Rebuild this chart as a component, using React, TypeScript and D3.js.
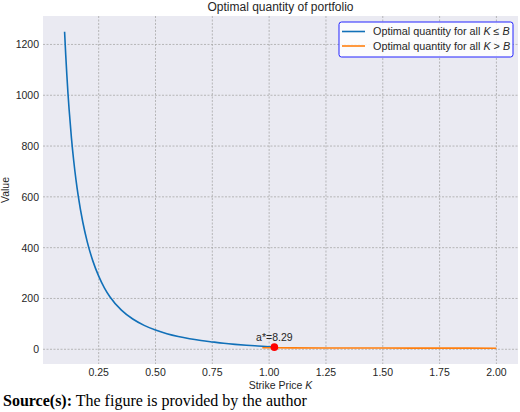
import { useEffect, useRef } from "react";
import * as d3 from "d3";

// blue branch: optimal quantity for K <= B
const strikeLow = [0.1, 0.105, 0.11, 0.115, 0.12, 0.13, 0.14, 0.15, 0.16, 0.18, 0.2, 0.225, 0.25, 0.275, 0.3, 0.35, 0.4, 0.45, 0.5, 0.55, 0.6, 0.65, 0.7, 0.75, 0.8, 0.85, 0.9, 0.95, 1.0, 1.023];
const valueLow = [1250, 1159, 1079, 1006, 943, 833, 743, 668, 604, 501, 422, 346, 288, 242, 206, 154, 119, 94, 75.5, 61.4, 50.4, 41.7, 34.7, 28.9, 23.5, 19.3, 15.8, 12.8, 9.9, 8.29];

// orange branch: optimal quantity for K > B
const strikeHigh = [0.97, 1.023, 1.1, 1.25, 1.5, 1.75, 2.0];
const valueHigh = [6, 5.8, 5.5, 5.2, 4.8, 4.5, 4.2];

const xTicks = [0.25, 0.5, 0.75, 1.0, 1.25, 1.5, 1.75, 2.0];
const yTicks = [0, 200, 400, 600, 800, 1000, 1200];

const optK = 1.023;
const optA = 8.29;

const legendLabels = [
  { color: "#1170b8", pre: "Optimal quantity for all ", k: "K", op: " ≤ ", b: "B" },
  { color: "#ff7f0e", pre: "Optimal quantity for all ", k: "K", op: " > ", b: "B" },
];

export default function App() {
  const svgRef = useRef<SVGSVGElement | null>(null);

  useEffect(() => {
    const width = 520;
    const height = 412;
    const plot = { left: 43, right: 518, top: 16, bottom: 364 };

    const x = d3.scaleLinear().domain([0.005, 2.095]).range([plot.left, plot.right]);
    const y = d3.scaleLinear().domain([-58, 1312]).range([plot.bottom, plot.top]);

    const svg = d3
      .select(svgRef.current)
      .attr("width", width)
      .attr("height", height)
      .style("font-family", "'Liberation Sans', Arial, sans-serif")
      .html("");

    svg.append("rect").attr("width", width).attr("height", height).attr("fill", "white");

    svg
      .append("rect")
      .attr("x", plot.left)
      .attr("y", plot.top)
      .attr("width", plot.right - plot.left)
      .attr("height", plot.bottom - plot.top)
      .attr("fill", "#eaeaf2");

    const grid = svg.append("g").attr("stroke", "#a8a8a8").attr("stroke-width", 0.8).attr("stroke-dasharray", "2,1.5");
    grid
      .selectAll("line.gx")
      .data(xTicks)
      .join("line")
      .attr("x1", (d) => x(d))
      .attr("x2", (d) => x(d))
      .attr("y1", plot.top)
      .attr("y2", plot.bottom);
    grid
      .selectAll("line.gy")
      .data(yTicks)
      .join("line")
      .attr("y1", (d) => y(d))
      .attr("y2", (d) => y(d))
      .attr("x1", plot.left)
      .attr("x2", plot.right);

    // tick labels
    svg
      .append("g")
      .selectAll("text")
      .data(xTicks)
      .join("text")
      .attr("x", (d) => x(d))
      .attr("y", 376)
      .attr("text-anchor", "middle")
      .attr("font-size", 10.5)
      .attr("fill", "#262626")
      .text((d) => d3.format(".2f")(d));
    svg
      .append("g")
      .selectAll("text")
      .data(yTicks)
      .join("text")
      .attr("x", 39)
      .attr("y", (d) => y(d) + 4)
      .attr("text-anchor", "end")
      .attr("font-size", 10.5)
      .attr("fill", "#262626")
      .text((d) => d);

    // axis labels
    const xl = svg
      .append("text")
      .attr("x", (plot.left + plot.right) / 2)
      .attr("y", 389)
      .attr("text-anchor", "middle")
      .attr("font-size", 10.5)
      .attr("fill", "#262626");
    xl.append("tspan").text("Strike Price ");
    xl.append("tspan").attr("font-style", "italic").text("K");

    svg
      .append("text")
      .attr("transform", `translate(9,${(plot.top + plot.bottom) / 2}) rotate(-90)`)
      .attr("text-anchor", "middle")
      .attr("font-size", 10.5)
      .attr("fill", "#262626")
      .text("Value");

    svg
      .append("text")
      .attr("x", (plot.left + plot.right) / 2)
      .attr("y", 11)
      .attr("text-anchor", "middle")
      .attr("font-size", 12)
      .attr("fill", "#262626")
      .text("Optimal quantity of portfolio");

    // lines
    const lineLow = d3
      .line<number>()
      .x((_, i) => x(strikeLow[i]))
      .y((d) => y(d))
      .curve(d3.curveMonotoneX);
    const lineHigh = d3
      .line<number>()
      .x((_, i) => x(strikeHigh[i]))
      .y((d) => y(d))
      .curve(d3.curveMonotoneX);

    svg
      .append("path")
      .attr("d", lineLow(valueLow))
      .attr("fill", "none")
      .attr("stroke", legendLabels[0].color)
      .attr("stroke-width", 1.6);
    svg
      .append("path")
      .attr("d", lineHigh(valueHigh))
      .attr("fill", "none")
      .attr("stroke", legendLabels[1].color)
      .attr("stroke-width", 1.6);

    svg.append("circle").attr("cx", x(optK)).attr("cy", y(optA)).attr("r", 3.8).attr("fill", "red");
    svg
      .append("text")
      .attr("x", x(optK))
      .attr("y", y(optA) - 6)
      .attr("text-anchor", "middle")
      .attr("font-size", 10.5)
      .attr("fill", "#262626")
      .text(`a*=${optA}`);

    // legend
    const lg = svg.append("g");
    lg.append("rect")
      .attr("x", 339)
      .attr("y", 22)
      .attr("width", 174)
      .attr("height", 35)
      .attr("rx", 2.5)
      .attr("fill", "white")
      .attr("fill-opacity", 0.85)
      .attr("stroke", "#2222ff")
      .attr("stroke-width", 1);
    legendLabels.forEach((l, i) => {
      const ly = 31.5 + i * 14.5;
      lg.append("line")
        .attr("x1", 342)
        .attr("x2", 365)
        .attr("y1", ly)
        .attr("y2", ly)
        .attr("stroke", l.color)
        .attr("stroke-width", 1.6);
      const t = lg
        .append("text")
        .attr("x", 373)
        .attr("y", ly + 3.8)
        .attr("font-size", 10.8)
        .attr("fill", "#262626");
      t.append("tspan").text(l.pre);
      t.append("tspan").attr("font-style", "italic").text(l.k);
      t.append("tspan").text(l.op);
      t.append("tspan").attr("font-style", "italic").text(l.b);
    });

    // source note
    const src = svg
      .append("text")
      .attr("x", 3)
      .attr("y", 406)
      .attr("font-family", "'Liberation Serif', 'Times New Roman', serif")
      .attr("font-size", 16)
      .attr("fill", "black");
    src.append("tspan").attr("font-weight", "bold").text("Source(s):");
    src.append("tspan").text(" The figure is provided by the author");
  }, []);

  return (
    <div style={{ position: "absolute", left: 0, top: 0 }}>
      <svg ref={svgRef}></svg>
    </div>
  );
}
